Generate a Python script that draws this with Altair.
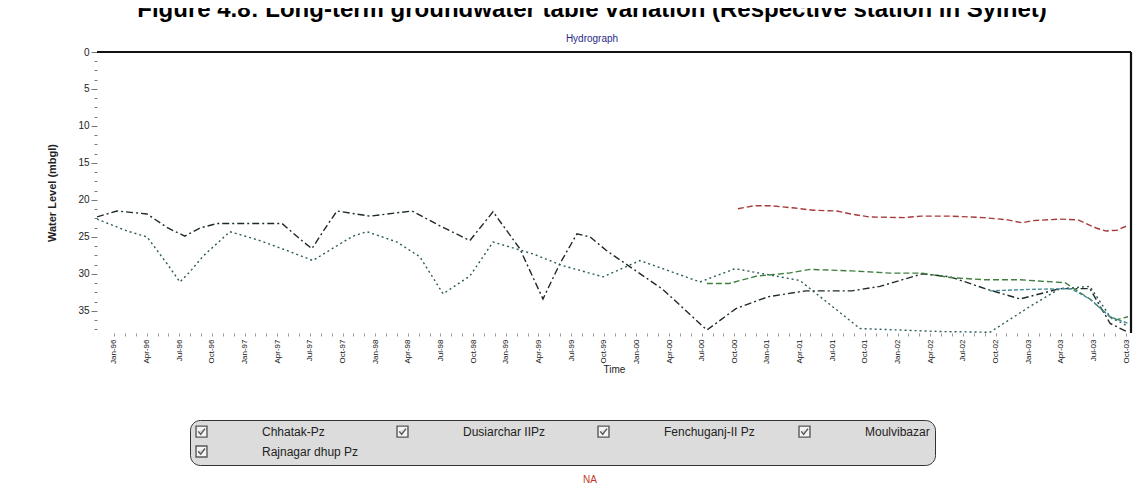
import json
import altair as alt
import pandas as pd

quarter_labels = [
    "Jan-96", "Apr-96", "Jul-96", "Oct-96", "Jan-97", "Apr-97", "Jul-97", "Oct-97",
    "Jan-98", "Apr-98", "Jul-98", "Oct-98", "Jan-99", "Apr-99", "Jul-99", "Oct-99",
    "Jan-00", "Apr-00", "Jul-00", "Oct-00", "Jan-01", "Apr-01", "Jul-01", "Oct-01",
    "Jan-02", "Apr-02", "Jul-02", "Oct-02", "Jan-03", "Apr-03", "Jul-03", "Oct-03",
]

stations = ["Chhatak-Pz", "Dusiarchar IIPz", "Fenchuganj-II Pz", "Moulvibazar", "Rajnagar dhup Pz"]

# quarter index (0 = first label) and water level (m below ground)
chhatak_q = [-0.52, 0.09, 1.01, 1.65, 2.17, 2.63, 3.15, 4.17, 5.15, 5.70, 6.06, 6.52, 6.83, 7.84, 9.13,
             9.98, 10.90, 11.61, 12.43, 13.14, 13.66, 14.18, 14.58, 15.10, 16.81, 18.16, 19.05, 20.03,
             21.19, 22.60, 23.46, 24.75, 25.61, 26.68, 27.75, 28.97, 29.89, 30.51, 31.06]
chhatak_wl = [22.3, 21.5, 21.9, 23.8, 24.9, 23.8, 23.2, 23.2, 23.2, 25.3, 26.6, 23.5, 21.5, 22.2, 21.5,
              23.5, 25.5, 21.6, 26.6, 33.4, 28.6, 24.6, 25.0, 26.9, 32.1, 37.6, 34.7, 33.1,
              32.3, 32.3, 31.7, 30.0, 30.4, 32.0, 33.4, 32.0, 32.0, 36.7, 37.9]

dusiarchar_q = [-0.52, 0.40, 1.01, 1.62, 2.02, 2.33, 2.73, 3.55, 4.47, 5.39, 6.09, 6.83, 7.32, 7.75, 8.67,
                9.37, 10.08, 10.90, 11.61, 12.83, 13.75, 14.98, 16.11, 17.95, 19.02, 21.01, 22.85, 25.30,
                26.83, 28.06, 28.97, 29.89, 30.51, 31.06]
dusiarchar_wl = [22.6, 24.2, 25.0, 28.6, 31.1, 29.7, 27.6, 24.3, 25.5, 27.0, 28.2, 26.2, 24.9, 24.3, 25.7,
                 27.7, 32.7, 30.3, 25.7, 27.3, 28.9, 30.4, 28.2, 31.1, 29.3, 30.9, 37.4, 37.8,
                 37.9, 34.4, 32.0, 31.7, 35.8, 37.1]

fenchuganj_q = [18.16, 18.84, 19.69, 20.67, 21.32, 22.60, 23.77, 24.75, 25.61, 26.68, 27.75, 29.13, 29.89, 30.63, 31.06]
fenchuganj_wl = [31.3, 31.3, 30.3, 29.9, 29.4, 29.6, 29.9, 29.9, 30.5, 30.8, 30.8, 31.2, 33.4, 36.3, 35.8]

moulvibazar_q = [19.11, 19.60, 20.12, 20.86, 21.41, 22.14, 22.57, 23.12, 24.20, 24.72, 25.67, 26.65,
                 27.38, 27.81, 28.15, 29.00, 29.53, 30.08, 30.38, 30.72, 31.03]
moulvibazar_wl = [21.2, 20.8, 20.8, 21.1, 21.4, 21.5, 21.9, 22.3, 22.4, 22.2, 22.2, 22.4,
                  22.7, 23.1, 22.8, 22.6, 22.7, 23.8, 24.2, 24.1, 23.5]

rajnagar_q = [26.83, 28.06, 29.31, 29.89, 30.51, 31.06]
rajnagar_wl = [32.3, 32.1, 32.0, 33.4, 35.8, 36.7]

series = [
    (stations[0], chhatak_q, chhatak_wl),
    (stations[1], dusiarchar_q, dusiarchar_wl),
    (stations[2], fenchuganj_q, fenchuganj_wl),
    (stations[3], moulvibazar_q, moulvibazar_wl),
    (stations[4], rajnagar_q, rajnagar_wl),
]
rows = []
for name, qs, ws in series:
    for q, w in zip(qs, ws):
        rows.append({"station": name, "line": name, "q": q, "wl": w})
df = pd.DataFrame(rows)

colors = ["#1e2a2a", "#2d5b5b", "#3f7f3f", "#a83a3a", "#4a8c9a"]
dashes = [[7, 3, 2, 3], [2, 3], [6, 3], [6, 3], [4, 2]]

x_min, x_max = -0.52, 31.15
x_ticks = [k / 3 for k in range(0, 3 * len(quarter_labels) - 2)]
label_expr = (
    "abs(datum.value - round(datum.value)) < 0.01 ? "
    + json.dumps(quarter_labels)
    + "[round(datum.value)] : ''"
)

check_path = "M-1,-1H1V1H-1Z M-0.6,-0.05 L-0.15,0.5 L0.65,-0.55"

x_enc = alt.X(
    "q:Q",
    scale=alt.Scale(domain=[x_min, x_max], nice=False, zero=False),
    axis=alt.Axis(
        values=x_ticks,
        tickCount=500,
        labelExpr=label_expr,
        labelAngle=-90,
        labelAlign="right",
        labelBaseline="middle",
        labelFontSize=8,
        labelFont="Liberation Sans",
        labelColor="#111",
        labelPadding=3,
        labelOverlap=False,
        tickSize=3,
        tickColor="#999",
        domain=False,
        grid=False,
        title="Time",
        titleFont="Liberation Sans",
        titleFontSize=10,
        titleFontWeight="normal",
        titleColor="#222",
        titlePadding=1,
    ),
)
y_enc = alt.Y(
    "wl:Q",
    scale=alt.Scale(domain=[0, 38], reverse=True, nice=False, zero=False),
    axis=alt.Axis(
        values=[k * 1.25 for k in range(0, 31)],
        tickCount=500,
        labelExpr="datum.value % 5 === 0 ? datum.value : ''",
        labelFontSize=10,
        labelFont="Liberation Sans",
        labelColor="#222",
        labelOverlap=False,
        tickSize={"condition": {"test": "datum.value % 5 === 0", "value": 6}, "value": 3},
        tickColor="#777",
        domain=False,
        grid=False,
        title="Water Level (mbgl)",
        titleFont="Liberation Sans",
        titleFontSize=11,
        titleFontWeight="bold",
        titleColor="#222",
        titlePadding=20,
    ),
)

lines = alt.Chart(df).mark_line(strokeWidth=1.4, clip=True).encode(
    x=x_enc,
    y=y_enc,
    color=alt.Color("line:N", scale=alt.Scale(domain=stations, range=colors), legend=None),
    strokeDash=alt.StrokeDash("line:N", scale=alt.Scale(domain=stations, range=dashes), legend=None),
)

# legend only (check-box entries), no marks drawn
legend_layer = alt.Chart(df).mark_point(filled=False, fill="white", strokeWidth=1.4).encode(
    x="q:Q",
    y="wl:Q",
    color=alt.Color(
        "station:N",
        scale=alt.Scale(domain=stations, range=["#222222"] * len(stations)),
        legend=alt.Legend(
            orient="none",
            legendX=93,
            legendY=368,
            direction="horizontal",
            columns=4,
            title=None,
            fillColor="#dcdcdc",
            strokeColor="#333",
            cornerRadius=10,
            padding=5,
            symbolType=check_path,
            symbolSize=120,
            symbolFillColor="white",
            symbolStrokeColor="#222",
            symbolStrokeWidth=1.4,
            labelOffset=54,
            labelFontSize=12,
            labelFont="Liberation Sans",
            labelColor="#222",
            labelLimit=250,
            columnPadding=35,
            rowPadding=3,
            gridAlign="all",
        ),
    ),
).transform_filter("datum.q > 1000")

top_line = alt.Chart(pd.DataFrame({"y": [0]})).mark_rule(color="#111", strokeWidth=2.2).encode(
    y=alt.Y("y:Q")
)
right_line = alt.Chart(pd.DataFrame({"x": [x_max]})).mark_rule(color="#111", strokeWidth=2.2).encode(
    x=alt.X("x:Q")
)

note = alt.Chart(pd.DataFrame({"t": ["NA"]})).mark_text(
    color="#c0392b", fontSize=10, font="Liberation Sans"
).encode(x=alt.value(493), y=alt.value(428), text="t:N")

chart = (
    alt.layer(lines, legend_layer, top_line, right_line, note)
    .resolve_scale(color="independent")
    .properties(
        width=1034,
        height=281,
        title=alt.TitleParams(
            text="Figure 4.8: Long-term groundwater table variation (Respective station in Sylhet)",
            subtitle="Hydrograph",
            font="Liberation Sans",
            fontSize=24,
            fontWeight="bold",
            color="black",
            subtitleFont="Liberation Sans",
            subtitleFontSize=10,
            subtitleColor="#2a2a8a",
            subtitlePadding=12,
            anchor="middle",
            offset=3,
            dx=-22,
        ),
        autosize=alt.AutoSizeParams(type="none"),
        padding={"left": 89, "top": 44, "right": 9, "bottom": 158},
    )
    .configure(background="white")
    .configure_view(stroke=None)
)

chart.save("out.html", embed_options={"renderer": "svg", "actions": False})
